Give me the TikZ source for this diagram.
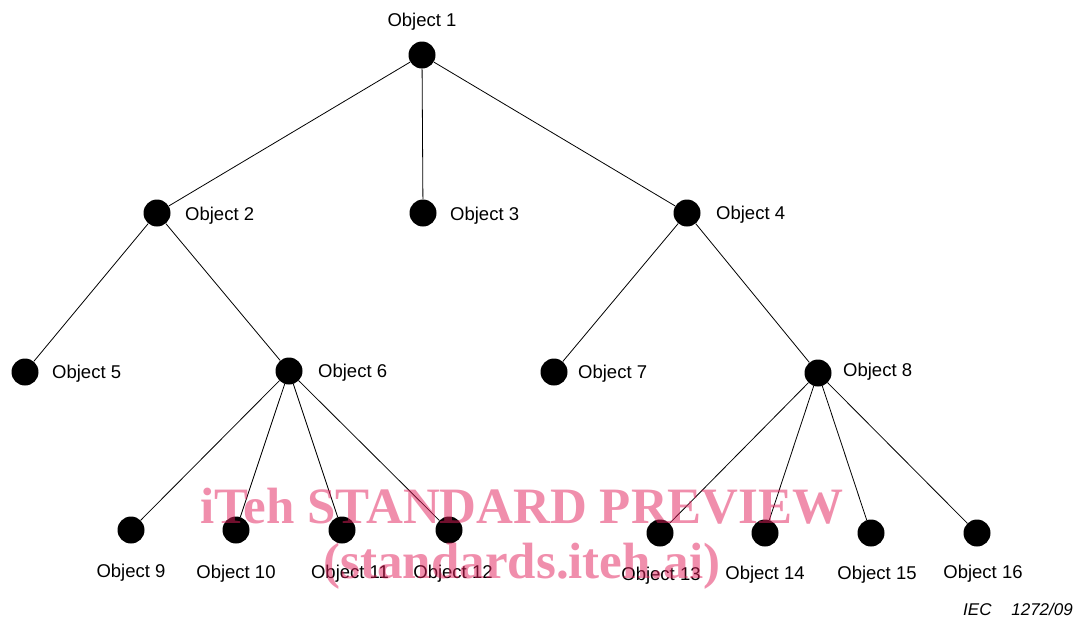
\documentclass[tikz,border=0pt]{standalone}
\usepackage{fontspec}
\setmainfont{Liberation Sans}
\newfontfamily\wmfont{Liberation Serif}
\definecolor{wmpink}{RGB}{225,30,90}
\begin{document}
\begin{tikzpicture}[x=1pt,y=-1pt,
  obj/.style={circle,fill=black,minimum size=27pt,inner sep=0pt},
  lab/.style={font=\fontsize{18.5}{21}\selectfont,inner sep=0pt},
  edge/.style={line width=0.8pt,black},
  iecf/.style={font=\itshape\fontsize{17}{19}\selectfont,inner sep=0pt},
  wm/.style={font=\wmfont\bfseries\fontsize{51}{55}\selectfont,text=wmpink,text opacity=0.5,inner sep=0pt,anchor=base}]
\useasboundingbox (0,0) rectangle (1077,619);
% nodes
\node[obj] (n1) at (422,55) {};
\node[obj] (n2) at (157,213) {};
\node[obj] (n3) at (423,213) {};
\node[obj] (n4) at (687,213) {};
\node[obj] (n5) at (25,372) {};
\node[obj] (n6) at (289,371) {};
\node[obj] (n7) at (554,372) {};
\node[obj] (n8) at (818,373) {};
\node[obj] (n9) at (131,530) {};
\node[obj] (n10) at (236,530) {};
\node[obj] (n11) at (342,530) {};
\node[obj] (n12) at (449,530) {};
\node[obj] (n13) at (660,533) {};
\node[obj] (n14) at (765,533) {};
\node[obj] (n15) at (871,533) {};
\node[obj] (n16) at (977,533) {};
% edges
\draw[edge] (n1) -- (n2);
\draw[edge] (n1) -- (n3);
\draw[edge] (n1) -- (n4);
\draw[edge] (n2) -- (n5);
\draw[edge] (n2) -- (n6);
\draw[edge] (n4) -- (n7);
\draw[edge] (n4) -- (n8);
\draw[edge] (n6) -- (n9);
\draw[edge] (n6) -- (n10);
\draw[edge] (n6) -- (n11);
\draw[edge] (n6) -- (n12);
\draw[edge] (n8) -- (n13);
\draw[edge] (n8) -- (n14);
\draw[edge] (n8) -- (n15);
\draw[edge] (n8) -- (n16);
% labels
\node[lab,anchor=base] (l1) at (422,26.5) {Object 1};
\node[lab,anchor=base west] (l2) at (185,220) {Object 2};
\node[lab,anchor=base west] (l3) at (450,220) {Object 3};
\node[lab,anchor=base west] (l4) at (716,219.5) {Object 4};
\node[lab,anchor=base west] (l5) at (52,378.5) {Object 5};
\node[lab,anchor=base west] (l6) at (318,377) {Object 6};
\node[lab,anchor=base west] (l7) at (578,378.5) {Object 7};
\node[lab,anchor=base west] (l8) at (843,376.5) {Object 8};
\node[lab,anchor=base] (l9) at (131,577.5) {Object 9};
\node[lab,anchor=base] (l10) at (236,578) {Object 10};
\node[lab,anchor=base] (l11) at (350,578) {Object 11};
\node[lab,anchor=base] (l12) at (453,578) {Object 12};
\node[lab,anchor=base] (l13) at (661,580) {Object 13};
\node[lab,anchor=base] (l14) at (765,579) {Object 14};
\node[lab,anchor=base] (l15) at (877,579) {Object 15};
\node[lab,anchor=base] (l16) at (983,578.5) {Object 16};
% reference
\node[iecf,anchor=base west] (iec) at (963,615) {IEC};
\node[iecf,anchor=base east] (num) at (1073,615) {1272/09};
% watermark
\node[wm] (wm1) at (522,523) {iTeh STANDARD PREVIEW};
\node[wm] (wm2) at (522,578) {(standards.iteh.ai)};
\end{tikzpicture}
\end{document}
